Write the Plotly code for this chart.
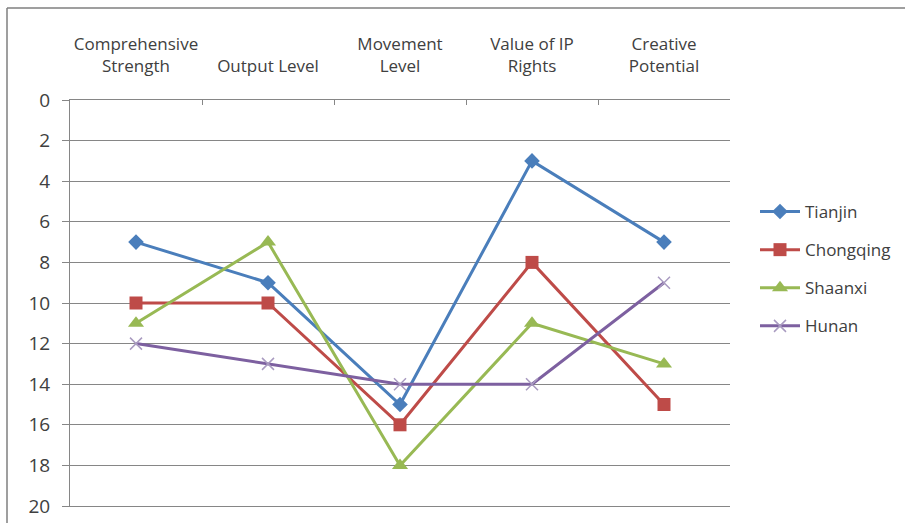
import plotly.graph_objects as go

categories = ["Comprehensive<br>Strength", "Output Level", "Movement<br>Level", "Value of IP<br>Rights", "Creative<br>Potential"]
tianjin = [7, 9, 15, 3, 7]
chongqing = [10, 10, 16, 8, 15]
shaanxi = [11, 7, 18, 11, 13]
hunan = [12, 13, 14, 14, 9]
y_ticks = [0, 2, 4, 6, 8, 10, 12, 14, 16, 18, 20]

series = [
    ("Tianjin", tianjin, "#4A7EBB", "diamond", 12),
    ("Chongqing", chongqing, "#BE4B48", "square", 13),
    ("Shaanxi", shaanxi, "#98B954", "triangle-up", 14),
    ("Hunan", hunan, "#7D60A0", "x-thin", 12),
]

W, H = 905, 523
L, R, T, B = 70, 730, 100, 506

fig = go.Figure()
for i, (name, vals, color, sym, size) in enumerate(series):
    mk = dict(symbol=sym, size=size, color=color)
    if sym == "x-thin":
        mk["line"] = dict(color="#A99BC0", width=1.5)
    fig.add_trace(go.Scatter(
        x=categories, y=vals, name=name, mode="lines+markers",
        line=dict(color=color, width=3), marker=mk,
        legendgroup=name,
    ))

fig.update_layout(
    width=W, height=H,
    margin=dict(l=L, r=W - R, t=T, b=H - B, pad=0, autoexpand=False),
    paper_bgcolor="white", plot_bgcolor="white",
    font=dict(family="Open Sans", size=17, color="#404040"),
    showlegend=True,
    legend=dict(x=(755 - L) / (R - L), y=(B - 269) / (B - T), xanchor="left", yanchor="middle",
                font=dict(size=17, color="#404040"), tracegroupgap=13, itemwidth=40,
                bgcolor="rgba(0,0,0,0)"),
    xaxis=dict(side="top", type="category", showgrid=False, showline=True, mirror=True,
               linecolor="#868686", linewidth=1, tickangle=0, automargin=False,
               ticks="inside", ticklen=5, tickcolor="#868686", tickson="boundaries",
               ticklabelstandoff=20, tickfont=dict(size=17, color="#404040"), zeroline=False,
               range=[-0.5, 4.5]),
    yaxis=dict(range=[20, 0], tickvals=y_ticks, showgrid=True, gridcolor="#868686", gridwidth=1,
               showline=True, linecolor="#868686", linewidth=1, ticks="outside", ticklen=7,
               tickcolor="#868686", tickfont=dict(size=19, color="#404040"), zeroline=False,
               ticklabelstandoff=8, automargin=False),
    shapes=[
        dict(type="line", xref="paper", yref="paper", x0=(7 - L) / (R - L), x1=(W - L) / (R - L),
             y0=(B - 8) / (B - T), y1=(B - 8) / (B - T), line=dict(color="#7F7F7F", width=1.5)),
        dict(type="line", xref="paper", yref="paper", x0=(7 - L) / (R - L), x1=(7 - L) / (R - L),
             y0=(B - 8) / (B - T), y1=(B - H) / (B - T), line=dict(color="#7F7F7F", width=1.5)),
    ],
)

fig.write_html("out.html")
